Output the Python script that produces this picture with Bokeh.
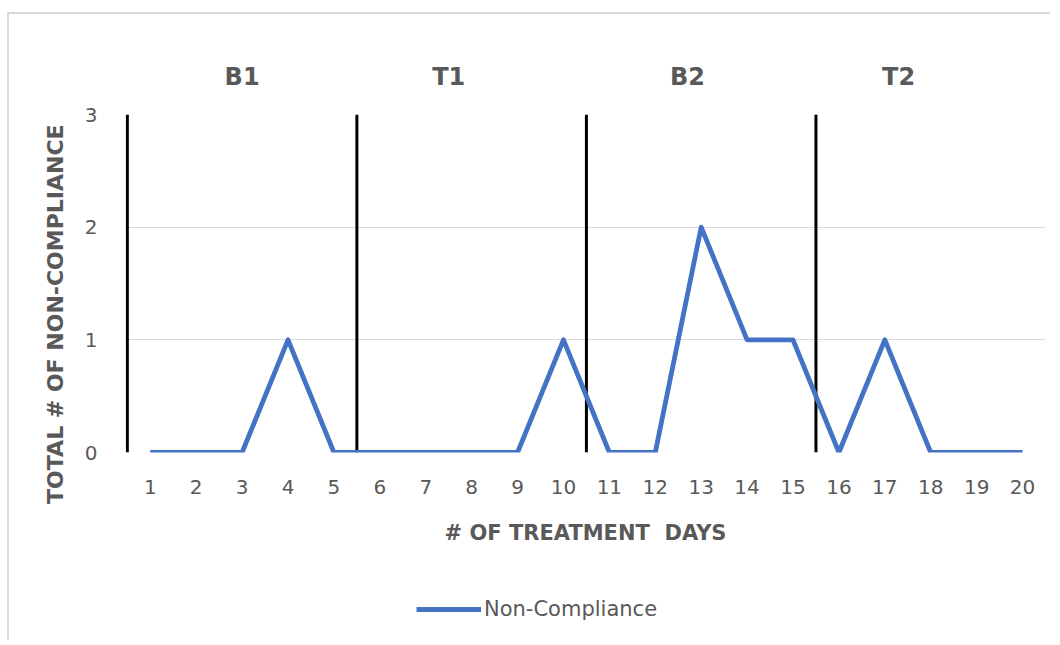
from bokeh.plotting import figure
from bokeh.layouts import column
from bokeh.models import FixedTicker, Legend, LegendItem, Range1d, LinearAxis
from bokeh.embed import file_html
from bokeh.resources import INLINE

# ---- data ----
days = list(range(1, 21))
non_compliance = [0, 0, 0, 1, 0, 0, 0, 0, 0, 1, 0, 0, 2, 1, 1, 0, 1, 0, 0, 0]
phase_names = ["B1", "T1", "B2", "T2"]
phase_label_x = [3.0, 7.5, 12.7, 17.3]
phase_boundaries = [0.5, 5.5, 10.5, 15.5]
boundary_bottom = [0, 0, 0, 0]
boundary_top = [3, 3, 3, 3]
y_ticks = [0, 1, 2, 3]
series_name = "Non-Compliance"

FONT = "DejaVu Sans"
GRAY = "#595959"
BLUE = "#4472C4"

p = figure(width=1041, height=546,
           x_range=Range1d(0.46, 20.5), y_range=Range1d(0, 3),
           output_backend="svg", toolbar_location=None,
           min_border_left=116, min_border_right=5,
           min_border_top=100, min_border_bottom=108)
p.outline_line_color = None
p.background_fill_color = "white"
p.border_fill_color = "white"

# grid
p.xgrid.grid_line_color = None
p.ygrid.grid_line_color = "#d9d9d9"
p.ygrid.grid_line_width = 1

# y axis
p.yaxis.ticker = FixedTicker(ticks=y_ticks)
p.yaxis.axis_line_color = None
p.yaxis.major_tick_line_color = None
p.yaxis.minor_tick_line_color = None
p.yaxis.major_label_standoff = 22
p.yaxis.major_label_text_font = FONT
p.yaxis.major_label_text_font_size = "20px"
p.yaxis.major_label_text_color = GRAY
p.yaxis.axis_label = "TOTAL # OF NON-COMPLIANCE" + "\u00a0" * 8
p.yaxis.axis_label_text_font = FONT
p.yaxis.axis_label_text_font_size = "22px"
p.yaxis.axis_label_text_font_style = "bold"
p.yaxis.axis_label_text_color = GRAY
p.yaxis.axis_label_standoff = 14

# x axis
p.xaxis.ticker = FixedTicker(ticks=days)
p.xaxis.axis_line_color = None
p.xaxis.major_tick_line_color = None
p.xaxis.minor_tick_line_color = None
p.xaxis.major_label_standoff = 21
p.xaxis.major_label_text_font = FONT
p.xaxis.major_label_text_font_size = "20px"
p.xaxis.major_label_text_color = GRAY
p.xaxis.axis_label = "# OF TREATMENT\u00a0\u00a0DAYS"
p.xaxis.axis_label_text_font = FONT
p.xaxis.axis_label_text_font_size = "21px"
p.xaxis.axis_label_text_font_style = "bold"
p.xaxis.axis_label_text_color = GRAY
p.xaxis.axis_label_standoff = 24

# phase names on an axis along the top
phase_axis = LinearAxis(ticker=FixedTicker(ticks=phase_label_x),
                        major_label_overrides={x: n for x, n in zip(phase_label_x, phase_names)})
phase_axis.axis_line_color = None
phase_axis.major_tick_line_color = None
phase_axis.minor_tick_line_color = None
phase_axis.major_label_standoff = 18
phase_axis.major_label_text_font = FONT
phase_axis.major_label_text_font_size = "24px"
phase_axis.major_label_text_font_style = "bold"
phase_axis.major_label_text_color = GRAY
p.add_layout(phase_axis, "above")

# phase boundaries
p.segment(x0=phase_boundaries, y0=boundary_bottom, x1=phase_boundaries, y1=boundary_top,
          line_color="black", line_width=3)

# data line
p.line(days, non_compliance, line_color=BLUE, line_width=4.8, line_join="round")

# ---- legend strip below the chart ----
lg = figure(width=1041, height=80, x_range=Range1d(0.5, 20.5), y_range=Range1d(10, 11),
            output_backend="svg", toolbar_location=None,
            x_axis_type=None, y_axis_type=None,
            min_border_left=0, min_border_right=0, min_border_top=0, min_border_bottom=0)
lg.outline_line_color = None
lg.xgrid.visible = False
lg.ygrid.visible = False
# same series, drawn out of this strip's view: only its legend entry shows
lg_line = lg.line(days, non_compliance, line_color=BLUE, line_width=4.8)
legend = Legend(items=[LegendItem(label=series_name, renderers=[lg_line])],
                location=(291, 19), orientation="horizontal",
                glyph_width=65, glyph_height=24, label_height=24,
                label_standoff=3, padding=0, margin=0, spacing=0,
                border_line_color=None, background_fill_alpha=0,
                label_text_font=FONT, label_text_font_size="21px",
                label_text_color=GRAY)
lg.add_layout(legend, "center")

layout = column(p, lg, margin=(12, 0, 0, 7),
                styles={"border-left": "2px solid #d9d9d9", "border-top": "2px solid #d9d9d9"})

open("out.html", "w").write(file_html(layout, INLINE))
